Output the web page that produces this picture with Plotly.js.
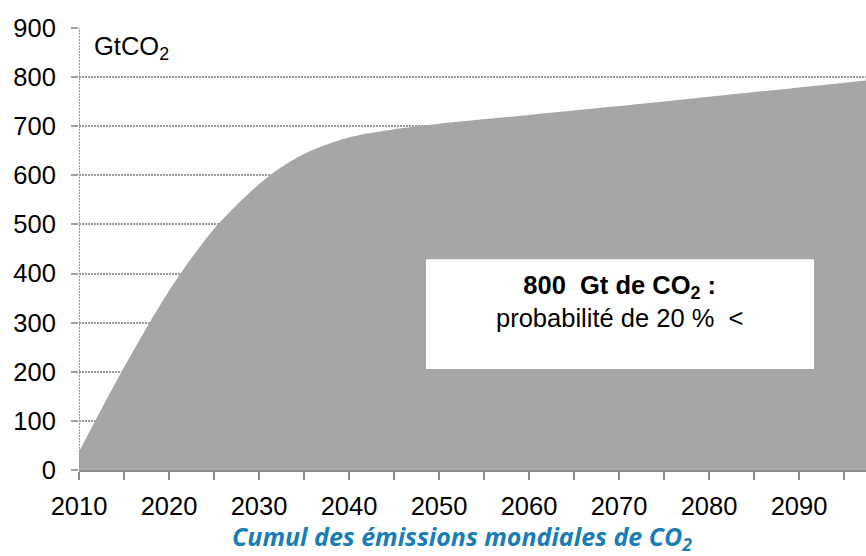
<!DOCTYPE html>
<html>
<head>
<meta charset="utf-8">
<script src="https://cdn.plot.ly/plotly-3.0.1.min.js"></script>
<style>html,body{margin:0;padding:0;background:#fff;}</style>
</head>
<body>
<div id="chart" style="width:866px;height:556px;"></div>
<script>
// Cumulative global CO2 emissions (GtCO2)
const years  = [2010, 2012, 2015, 2018, 2020, 2022, 2025, 2028, 2030, 2032, 2034, 2036, 2038, 2040, 2042, 2045, 2048, 2050, 2052, 2060, 2070, 2080, 2090, 2100];
const values = [37, 107, 209, 305, 365, 419, 491, 548, 582, 611, 634, 652, 666, 677, 685, 694, 701, 705, 709, 723, 741, 760, 779, 798];

const xTickVals = [2010, 2020, 2030, 2040, 2050, 2060, 2070, 2080, 2090];
const xTickText = ['2010', '2020', '2030', '2040', '2050', '2060', '2070', '2080', '2090'];
const yTickVals = [0, 100, 200, 300, 400, 500, 600, 700, 800, 900];

const unitLabel = 'GtCO<sub>2</sub>';
const boxLine1 = '<b>800  Gt de CO<sub>2</sub> :</b>';
const boxLine2 = 'probabilité de 20 %  <';
const titleText = 'Cumul des émissions mondiales de CO<sub>2</sub>';

const trace = {
  x: years,
  y: values,
  type: 'scatter',
  mode: 'lines',
  fill: 'tozeroy',
  fillcolor: '#a6a6a6',
  line: {width: 0, shape: 'spline', smoothing: 0.6, color: '#a6a6a6'},
  hoverinfo: 'skip'
};

const baseFont = {family: '"Liberation Sans", Arial, sans-serif', size: 25.5, color: '#000'};

const layout = {
  width: 866,
  height: 556,
  margin: {l: 79, r: 0, t: 28, b: 86, pad: 0},
  paper_bgcolor: '#fff',
  plot_bgcolor: '#fff',
  showlegend: false,
  font: baseFont,
  xaxis: {
    range: [2010, 2097.44],
    tickmode: 'array',
    tickvals: xTickVals,
    ticktext: xTickText,
    ticks: 'outside',
    ticklen: 8,
    tickwidth: 2,
    tickcolor: '#8c8c8c',
    ticklabelstandoff: 4,
    minor: {tick0: 2015, dtick: 10, ticks: 'outside', ticklen: 8, tickwidth: 2, tickcolor: '#8c8c8c', showgrid: false},
    showline: true,
    linecolor: '#8c8c8c',
    linewidth: 2,
    showgrid: false,
    zeroline: false,
    tickfont: baseFont,
    fixedrange: true
  },
  yaxis: {
    range: [0, 900],
    tickmode: 'array',
    tickvals: yTickVals,
    ticks: 'outside',
    ticklen: 7,
    tickwidth: 2,
    tickcolor: '#a0a0a0',
    ticklabelstandoff: 10,
    showline: false,
    showgrid: true,
    gridcolor: '#9a9a9a',
    gridwidth: 2,
    griddash: '2px,1px',
    zeroline: false,
    tickfont: baseFont,
    fixedrange: true
  },
  shapes: [
    {type: 'line', xref: 'x', yref: 'paper', x0: 2010, x1: 2010, y0: 0, y1: 1,
     line: {color: '#9a9a9a', width: 2, dash: '2px,1px'}, layer: 'above'},
    {type: 'rect', xref: 'paper', yref: 'paper', x0: 0.4409, x1: 0.934, y0: 0.2284, y1: 0.477,
     fillcolor: '#ffffff', line: {width: 0}, layer: 'above'}
  ],
  annotations: [
    {text: unitLabel, xref: 'paper', yref: 'paper', x: 0.0165, y: 0.954, xanchor: 'left', yanchor: 'middle',
     showarrow: false, font: baseFont},
    {text: boxLine1 + '<br>' + boxLine2, xref: 'paper', yref: 'paper', x: 0.687, y: 0.382,
     xanchor: 'center', yanchor: 'middle', align: 'center', showarrow: false, font: baseFont},
    {text: titleText, xref: 'paper', yref: 'paper', x: (462 - 79) / 787, y: (470 - 537) / 442,
     xanchor: 'center', yanchor: 'middle', showarrow: false,
     font: {family: '"Open Sans", sans-serif', size: 25, color: '#1a7db5', weight: 'bold', style: 'italic'}}
  ]
};

Plotly.newPlot('chart', [trace], layout, {displayModeBar: false, staticPlot: true});
</script>
</body>
</html>
